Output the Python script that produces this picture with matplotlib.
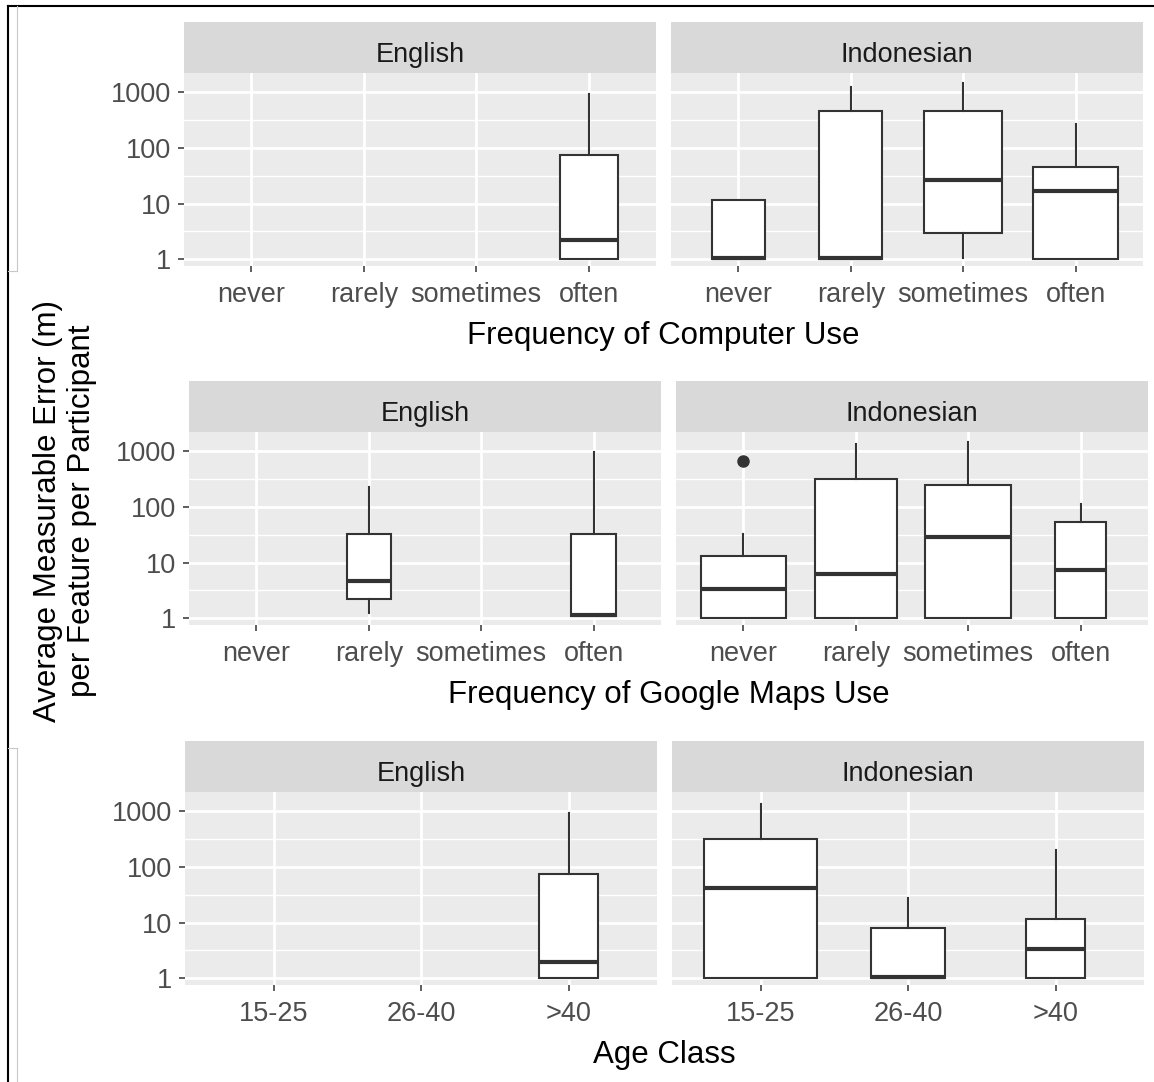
import numpy as np
import matplotlib.pyplot as plt
from matplotlib.lines import Line2D
from matplotlib.ticker import NullFormatter

plt.rcParams['font.family'] = ['Liberation Sans', 'DejaVu Sans']

# summary per group: (whisker low, Q1, median, Q3, whisker high, participants)
computer_levels = ["never", "rarely", "sometimes", "often"]
computer_en = [None, None, None, (1.0, 1.0, 2.2, 75, 950, 6)]
computer_id = [(1.0, 1.0, 1.03, 11.5, 11.5, 5),
               (1.0, 1.0, 1.03, 455, 1230, 7),
               (1.05, 3.0, 26.5, 455, 1480, 11),
               (1.0, 1.0, 17, 45, 265, 13)]

maps_levels = ["never", "rarely", "sometimes", "often"]
maps_en = [None, (1.22, 2.23, 4.7, 32, 229, 3), None, (1.1, 1.1, 1.13, 32, 970, 3)]
maps_id = [(1.0, 1.0, 3.37, 13.2, 33, 11),
           (1.0, 1.0, 6.3, 323, 1380, 10),
           (1.0, 1.0, 28.5, 245, 1490, 11),
           (1.0, 1.0, 7.4, 54, 114, 4)]
maps_id_outliers = [[660], [], [], []]

age_levels = ["15-25", "26-40", ">40"]
age_en = [None, None, (1.0, 1.0, 1.95, 74, 940, 6)]
age_id = [(1.0, 1.0, 42.5, 317, 1360, 21),
          (1.0, 1.0, 1.05, 8, 28, 9),
          (1.0, 1.0, 3.4, 11.5, 204, 6)]

W, H = 1154, 1082
fig = plt.figure(figsize=(W / 100, H / 100), dpi=100)
fig.patch.set_facecolor('white')

PANEL_W, PANEL_H, STRIP_H, GAP = 472, 193, 51, 15
BOX_SCALE = 0.76
DARK = '#333333'
SMALL = 19.5


def px_axes(left, top, width, height):
    return fig.add_axes([left / W, 1 - (top + height) / H, width / W, height / H])


def draw_panel(ax, levels, stats, fliers, nmax, show_y):
    ax.set_facecolor('#EBEBEB')
    for s in ax.spines.values():
        s.set_visible(False)
    pos = np.arange(1, len(levels) + 1)
    bstats, bpos, bwid = [], [], []
    for i, s in enumerate(stats):
        if s is None:
            continue
        lo, q1, med, q3, hi, n = s
        bstats.append(dict(whislo=lo, q1=q1, med=med, q3=q3, whishi=hi,
                           fliers=fliers[i] if fliers else []))
        bpos.append(pos[i])
        bwid.append(BOX_SCALE * np.sqrt(n / nmax))
    ax.set_yscale('log')
    ax.bxp(bstats, positions=bpos, widths=bwid, patch_artist=True,
           showcaps=False, manage_ticks=False,
           boxprops=dict(facecolor='white', edgecolor=DARK, linewidth=1.5),
           medianprops=dict(color=DARK, linewidth=3),
           whiskerprops=dict(color=DARK, linewidth=1.5),
           flierprops=dict(marker='o', markerfacecolor=DARK,
                           markeredgecolor=DARK, markersize=8))
    ax.set_ylim(10 ** -0.125, 10 ** 3.35)
    ax.set_xlim(0.4, len(levels) + 0.6)
    ax.set_xticks(pos, levels)
    ax.set_yticks([1, 10, 100, 1000], ['1', '10', '100', '1000'])
    ax.set_yticks(10 ** np.array([0.5, 1.5, 2.5]), minor=True)
    ax.yaxis.set_minor_formatter(NullFormatter())
    ax.set_axisbelow(True)
    ax.grid(which='major', color='white', linewidth=2)
    ax.grid(which='minor', axis='y', color='white', linewidth=1)
    ax.tick_params(which='minor', length=0)
    ax.tick_params(which='major', length=4.3, width=1.1, color=DARK,
                   labelcolor='#4D4D4D', labelsize=SMALL)
    ax.tick_params(axis='x', pad=7)
    ax.tick_params(axis='y', pad=5)
    if not show_y:
        ax.tick_params(axis='y', left=False, labelleft=False)


def draw_strip(left, top, label):
    ax = px_axes(left, top, PANEL_W, STRIP_H)
    ax.set_facecolor('#D9D9D9')
    for s in ax.spines.values():
        s.set_visible(False)
    ax.set_xticks([])
    ax.set_yticks([])
    ax.text(0.5, 1 - 40 / STRIP_H, label, transform=ax.transAxes,
            ha='center', va='baseline', fontsize=SMALL, color='#1A1A1A')


rows = [
    (computer_levels, computer_en, computer_id, None, "Frequency of Computer Use", 184, 22),
    (maps_levels, maps_en, maps_id, maps_id_outliers, "Frequency of Google Maps Use", 189, 381),
    (age_levels, age_en, age_id, None, "Age Class", 185, 741),
]

for levels, en, idn, idn_fliers, title, left, top in rows:
    nmax = max(s[5] for s in en + idn if s is not None)
    for j, (lang, stats, fl) in enumerate([("English", en, None),
                                            ("Indonesian", idn, idn_fliers)]):
        x0 = left + j * (PANEL_W + GAP)
        draw_strip(x0, top, lang)
        ax = px_axes(x0, top + STRIP_H, PANEL_W, PANEL_H)
        draw_panel(ax, levels, stats, fl, nmax, show_y=(j == 0))
    cx = left + PANEL_W + GAP / 2
    fig.text(cx / W, 1 - (top + STRIP_H + PANEL_H + 78) / H, title,
             ha='center', va='baseline', fontsize=22.5, color='black')

fig.text(65 / W, 1 - 511 / H,
         "Average Measurable Error (m)\nper Feature per Participant",
         rotation=90, ha='center', va='center', multialignment='center',
         fontsize=22.5, color='black')

# outer frame
fig.add_artist(Line2D([8 / W, 1], [1 - 6 / H, 1 - 6 / H], color='black', lw=1.5))
fig.add_artist(Line2D([8 / W, 8 / W], [0, 1 - 6 / H], color='black', lw=1.5))
for y0, y1 in [(6, 271), (748, H)]:
    fig.add_artist(Line2D([17 / W, 17 / W], [1 - y0 / H, 1 - y1 / H], color='#C8C8C8', lw=0.8))
for y in (271, 748):
    fig.add_artist(Line2D([8 / W, 17 / W], [1 - y / H, 1 - y / H], color='#C8C8C8', lw=0.8))

fig.savefig('out.png', dpi=100)
